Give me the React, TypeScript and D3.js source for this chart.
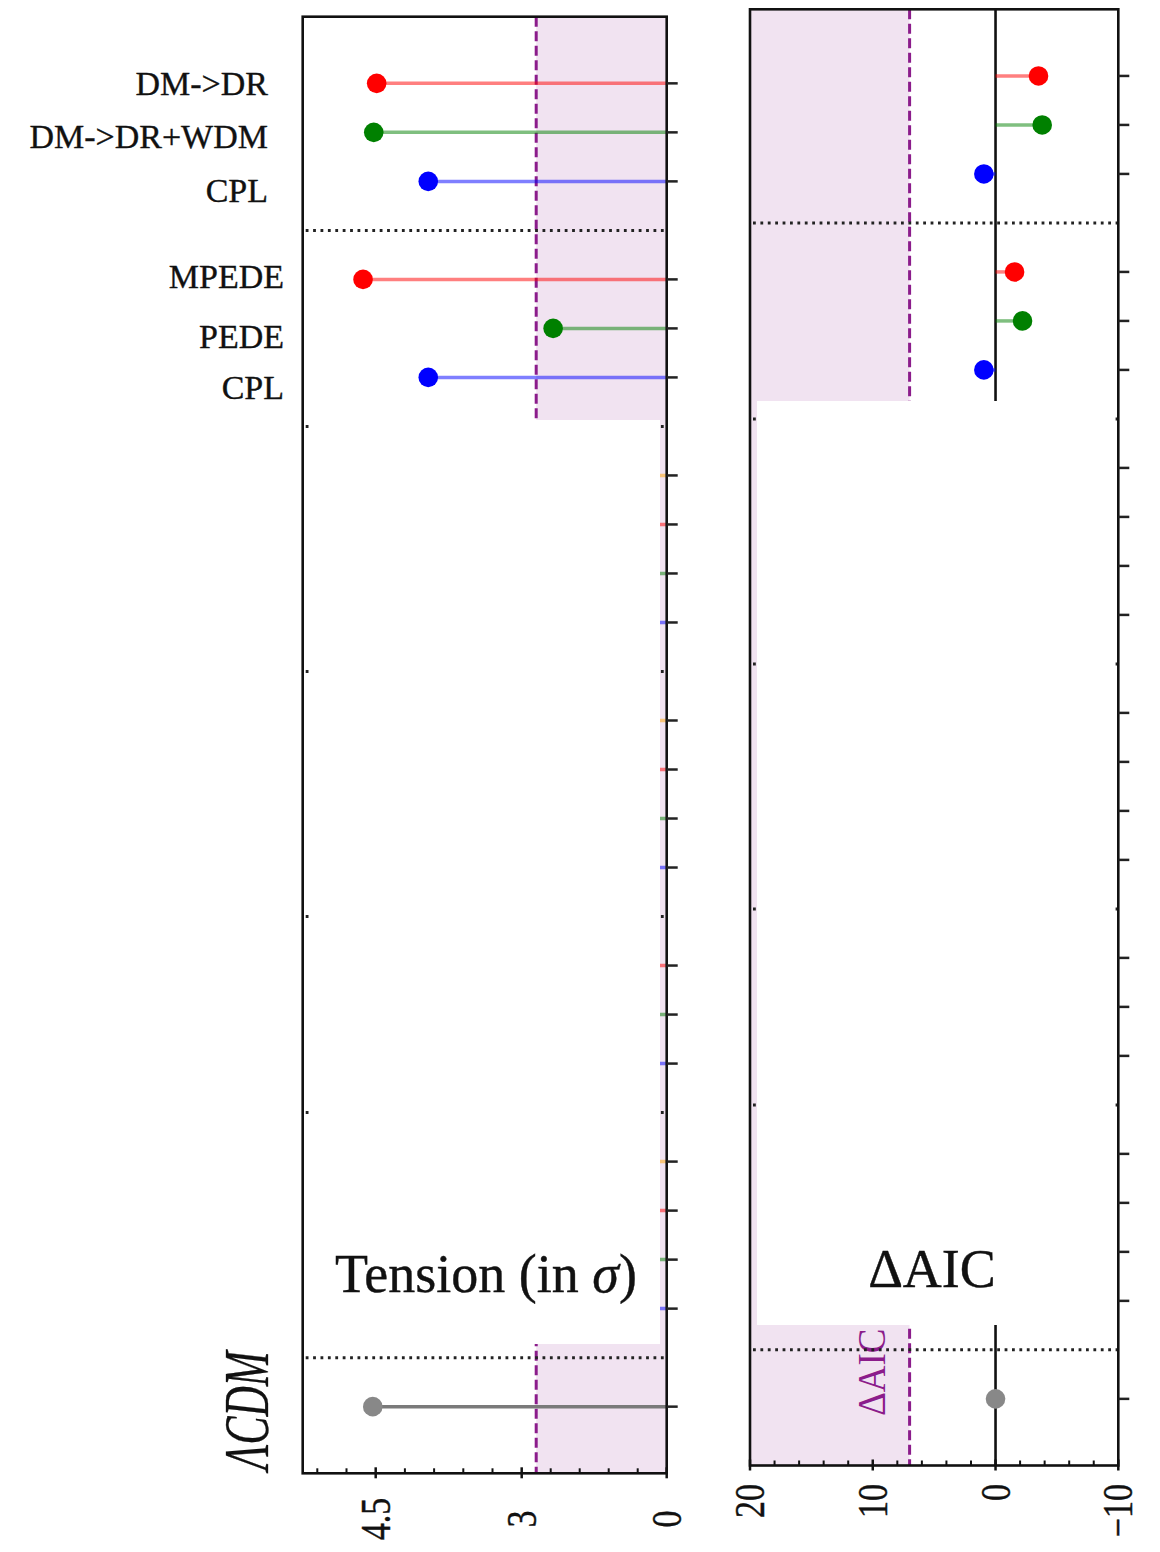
import React from "react";
import * as d3 from "d3";

// ---- data -------------------------------------------------------------
// Models are grouped; a dotted rule separates consecutive groups.
const groupSizes = [3, 3, 4, 4, 3, 4, 1];

const modelNames = [
  "DM->DR", "DM->DR+WDM", "CPL",
  "MPEDE", "PEDE", "CPL",
  "", "", "", "",
  "", "", "", "",
  "", "", "",
  "", "", "", "",
  "ΛCDM",
];

const modelColors = [
  "red", "green", "blue",
  "red", "green", "blue",
  "orange", "red", "green", "blue",
  "orange", "red", "green", "blue",
  "red", "green", "blue",
  "orange", "red", "green", "blue",
  "gray",
];

// Tension with the reference measurement, in sigma
const tensionSigma = [
  4.49, 4.52, 3.96,
  4.63, 2.35, 3.96,
  3.8, 4.1, 4.2, 3.9,
  3.6, 4.0, 4.1, 3.7,
  3.4, 3.5, 3.3,
  3.9, 4.0, 4.2, 3.8,
  4.53,
];

// ΔAIC relative to ΛCDM (null: not shown)
const deltaAIC: (number | null)[] = [
  -3.5, -3.8, 0.95,
  -1.55, -2.2, 0.95,
  null, null, null, null,
  null, null, null, null,
  null, null, null,
  null, null, null, null,
  0,
];

const tensionTicks = [4.5, 3, 0];
const tensionTickLabels = ["4.5", "3", "0"];
const tensionMinorTicks = [5.1, 4.8, 4.2, 3.9, 3.6, 3.3, 2.4, 1.8, 1.2, 0.6];
const tensionThreshold = 2.7;

const aicTicks = [20, 10, 0, -10];
const aicTickLabels = ["20", "10", "0", "−10"];
const aicMinorTicks = [18, 16, 14, 12, 8, 6, 4, 2, -2, -4, -6, -8];
const aicThreshold = 7;

// ---- layout -----------------------------------------------------------
const FONT = "'Liberation Serif', 'Times New Roman', Times, serif";
const PURPLE = "#8b1c8b";
const SHADE = "rgba(128,0,128,0.11)";

// slot index of every model row and of every separator rule
const rowSlots: number[] = [];
const separatorSlots: number[] = [];
{
  let slot = 0;
  groupSizes.forEach((n, g) => {
    for (let i = 0; i < n; i++) rowSlots.push(slot++);
    if (g < groupSizes.length - 1) separatorSlots.push(slot++);
  });
}
const groupOf: number[] = [];
groupSizes.forEach((n, g) => {
  for (let i = 0; i < n; i++) groupOf.push(g);
});
const nSlots = rowSlots[rowSlots.length - 1];

// label placement tweaks (right edge per group, baseline shift per label)
const labelRightEdge = [268, 284];
const labelBaselineShift = [12, 16, 21, 9, 20, 22];

export default function App() {
  // left panel: tension
  const tX = d3
    .scaleLinear()
    .domain([0, 3, 4.5, 5.25])
    .range([666.7, 521.7, 375.7, 302.7]);
  const tY = d3
    .scaleLinear()
    .domain([-1.36, nSlots + 1.36])
    .range([16.7, 1473.3]);

  // right panel: ΔAIC
  const aX = d3.scaleLinear().domain([20, -10]).range([750, 1118.3]);
  const aY = d3
    .scaleLinear()
    .domain([-1.36, nSlots + 1.36])
    .range([9.3, 1465.5]);

  const tL = tX(5.25), tR = tX(0), tT = tY(-1.36), tB = tY(nSlots + 1.36);
  const aL = aX(20), aR = aX(-10), aT = aY(-1.36), aB = aY(nSlots + 1.36);

  const lineW = 2.6;
  const textInk = { fill: "#111", stroke: "#111", strokeWidth: 0.35 };

  return (
    <svg
      width={1160}
      height={1552}
      style={{ position: "absolute", left: 0, top: 0, background: "#fff" }}
      fontFamily={FONT}
    >
      {/* ================= tension panel ================= */}
      <g>
        <rect x={tX(tensionThreshold)} y={tT} width={tR - tX(tensionThreshold)} height={tB - tT} fill={SHADE} />
        <line x1={tX(tensionThreshold)} x2={tX(tensionThreshold)} y1={tT} y2={tB}
          stroke={PURPLE} strokeWidth={3} strokeDasharray="10,4.5" />
        {separatorSlots.map((s) => (
          <line key={s} x1={tL + 3} x2={tR} y1={tY(s)} y2={tY(s)} stroke="#222"
            strokeWidth={3} strokeDasharray="2.8,4.6" />
        ))}
        {tensionSigma.map((v, i) => {
          const y = tY(rowSlots[i]);
          const c = modelColors[i];
          const isRef = c === "gray";
          return (
            <g key={i}>
              <line x1={tX(v)} x2={tX(0)} y1={y} y2={y}
                stroke={isRef ? "#7a7a7a" : c} strokeOpacity={isRef ? 1 : 0.5} strokeWidth={3.5} />
              <circle cx={tX(v)} cy={y} r={9.8} fill={isRef ? "#888" : c} />
            </g>
          );
        })}
        {/* title box */}
        <rect x={309} y={420} width={351} height={924} fill="#fff" />
        <text x={486} y={1292} fontSize={54} textAnchor="middle" {...textInk} strokeWidth={0.4}>
          Tension (in <tspan fontStyle="italic">σ</tspan>)
        </text>
        {/* frame */}
        <rect x={tL} y={tT} width={tR - tL} height={tB - tT} fill="none" stroke="#111" strokeWidth={lineW} />
        {/* y ticks on the right */}
        {rowSlots.map((s, i) => (
          <line key={i} x1={tR} x2={tR + 11} y1={tY(s)} y2={tY(s)} stroke="#222" strokeWidth={2.5} />
        ))}
        {/* x ticks */}
        {tensionTicks.map((v) => (
          <line key={v} x1={tX(v)} x2={tX(v)} y1={tB - 6} y2={tB + 5} stroke="#111" strokeWidth={2.5} />
        ))}
        {tensionMinorTicks.map((v) => (
          <line key={v} x1={tX(v)} x2={tX(v)} y1={tB - 5} y2={tB} stroke="#111" strokeWidth={2} />
        ))}
        {tensionTicks.map((v, i) => (
          <text key={v} transform={`translate(${tX(v)},1519) rotate(-90) scale(1,1.22)`}
            fontSize={34} textAnchor="middle" dy="0.34em" {...textInk}>
            {tensionTickLabels[i]}
          </text>
        ))}
        {/* model labels */}
        {modelNames.map((name, i) => {
          if (!name) return null;
          const y = tY(rowSlots[i]);
          if (modelColors[i] === "gray") {
            return (
              <text key={i} transform={`translate(268,${y + 4}) rotate(-90) scale(1,1.5)`}
                fontSize={42} fontStyle="italic" textAnchor="middle" {...textInk} strokeWidth={0.2}>
                {name}
              </text>
            );
          }
          return (
            <text key={i} x={labelRightEdge[groupOf[i]]} y={y + labelBaselineShift[i]}
              fontSize={34} textAnchor="end" {...textInk}>
              {name}
            </text>
          );
        })}
      </g>

      {/* ================= ΔAIC panel ================= */}
      <g>
        <rect x={aL} y={aT} width={aX(aicThreshold) - aL} height={aB - aT} fill={SHADE} />
        <line x1={aX(aicThreshold)} x2={aX(aicThreshold)} y1={aT} y2={aB}
          stroke={PURPLE} strokeWidth={3} strokeDasharray="10,4.5" />
        <text transform={`translate(${aX(aicThreshold) - 25},1416) rotate(-90) scale(1,1.1)`}
          fontSize={37} textAnchor="start" fill={PURPLE}>
          ΔAIC
        </text>
        {separatorSlots.map((s) => (
          <line key={s} x1={aL + 3} x2={aR} y1={aY(s)} y2={aY(s)} stroke="#222"
            strokeWidth={3} strokeDasharray="2.8,4.6" />
        ))}
        <line x1={aX(0)} x2={aX(0)} y1={aT} y2={aB} stroke="#111" strokeWidth={2.6} />
        {deltaAIC.map((v, i) => {
          if (v === null) return null;
          const y = aY(rowSlots[i]);
          const c = modelColors[i];
          const isRef = c === "gray";
          return (
            <g key={i}>
              <line x1={aX(0)} x2={aX(v)} y1={y} y2={y}
                stroke={isRef ? "#7a7a7a" : c} strokeOpacity={isRef ? 1 : 0.5} strokeWidth={3.5} />
              <circle cx={aX(v)} cy={y} r={9.8} fill={isRef ? "#888" : c} />
            </g>
          );
        })}
        {/* title box */}
        <rect x={757} y={401} width={357} height={924} fill="#fff" />
        <text x={932} y={1287} fontSize={54} textAnchor="middle" {...textInk} strokeWidth={0.4}>
          ΔAIC
        </text>
        {/* frame */}
        <rect x={aL} y={aT} width={aR - aL} height={aB - aT} fill="none" stroke="#111" strokeWidth={lineW} />
        {rowSlots.map((s, i) => (
          <line key={i} x1={aR} x2={aR + 11} y1={aY(s)} y2={aY(s)} stroke="#222" strokeWidth={2.5} />
        ))}
        {aicTicks.map((v) => (
          <line key={v} x1={aX(v)} x2={aX(v)} y1={aB - 6} y2={aB + 5} stroke="#111" strokeWidth={2.5} />
        ))}
        {aicMinorTicks.map((v) => (
          <line key={v} x1={aX(v)} x2={aX(v)} y1={aB - 5} y2={aB} stroke="#111" strokeWidth={2} />
        ))}
        {aicTicks.map((v, i) => (
          <text key={v} transform={`translate(${aX(v)},1484) rotate(-90) scale(1,1.22)`}
            fontSize={34} textAnchor="end" dy="0.34em" {...textInk}>
            {aicTickLabels[i]}
          </text>
        ))}
      </g>
    </svg>
  );
}
